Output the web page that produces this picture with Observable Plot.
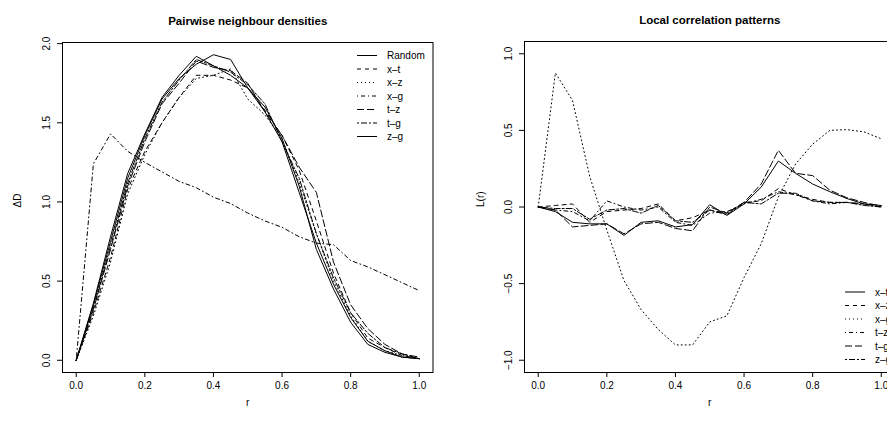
<!DOCTYPE html>
<html><head><meta charset="utf-8">
<script src="https://cdn.jsdelivr.net/npm/d3@7"></script>
<script src="https://cdn.jsdelivr.net/npm/@observablehq/plot@0.6"></script>
<style>
html,body{margin:0;padding:0;background:#fff;}
#wrap{position:relative;width:887px;height:426px;overflow:hidden;font-family:"Liberation Sans",Arial,Helvetica,sans-serif;}
#wrap > .pane{position:absolute;top:0;}
</style></head><body><div id="wrap"></div>
<script>
// ---- data ----
const rValues = [0,0.05,0.1,0.15,0.2,0.25,0.3,0.35,0.4,0.45,0.5,0.55,0.6,0.65,0.7,0.75,0.8,0.85,0.9,0.95,1.0];

const leftTitle = "Pairwise neighbour densities";
const leftYLabel = "\u0394D";
const leftNames = ["Random","x\u2013t","x\u2013z","x\u2013g","t\u2013z","t\u2013g","z\u2013g"];
const leftRandom = [0,0.35,0.75,1.15,1.42,1.65,1.78,1.87,1.93,1.90,1.72,1.60,1.40,1.10,0.70,0.45,0.24,0.10,0.05,0.02,0.01];
const leftXT     = [0,0.30,0.65,1.08,1.32,1.50,1.66,1.80,1.80,1.77,1.72,1.58,1.42,1.20,0.88,0.55,0.30,0.14,0.08,0.03,0.01];
const leftXZ     = [0,0.28,0.62,1.05,1.30,1.50,1.66,1.78,1.80,1.84,1.65,1.55,1.40,1.12,0.80,0.50,0.28,0.12,0.06,0.03,0.01];
const leftXG     = [0,1.24,1.43,1.32,1.25,1.19,1.13,1.09,1.03,0.99,0.93,0.88,0.84,0.78,0.74,0.73,0.63,0.59,0.54,0.49,0.44];
const leftTZ     = [0,0.32,0.70,1.10,1.38,1.62,1.75,1.89,1.85,1.83,1.75,1.57,1.42,1.22,1.06,0.62,0.35,0.20,0.10,0.04,0.02];
const leftTG     = [0,0.33,0.72,1.12,1.40,1.63,1.77,1.90,1.86,1.82,1.74,1.62,1.38,1.15,0.80,0.52,0.30,0.17,0.08,0.04,0.01];
const leftZG     = [0,0.36,0.78,1.18,1.43,1.66,1.80,1.92,1.86,1.80,1.72,1.57,1.38,1.06,0.74,0.48,0.27,0.12,0.06,0.02,0.01];
const leftYTicks = [0,0.5,1.0,1.5,2.0];

const rightTitle = "Local correlation patterns";
const rightYLabel = "L(r)";
const rightNames = ["x\u2013t","x\u2013z","x\u2013g","t\u2013z","t\u2013g","z\u2013g"];
const rightXT = [0,-0.03,-0.10,-0.11,-0.11,-0.185,-0.10,-0.09,-0.13,-0.115,0.015,-0.055,0.02,0.13,0.30,0.22,0.15,0.10,0.055,0.02,0.01];
const rightXZ = [0,0.01,0.02,-0.10,-0.03,-0.02,-0.01,0.02,-0.09,-0.07,-0.02,-0.04,0.03,0.04,0.12,0.08,0.05,0.03,0.03,0.02,0.0];
const rightXG = [0,0.875,0.695,0.20,-0.15,-0.48,-0.67,-0.80,-0.90,-0.90,-0.75,-0.71,-0.46,-0.24,0.065,0.28,0.41,0.50,0.505,0.49,0.445];
const rightTZ = [0,-0.02,-0.03,-0.09,0.04,0.0,-0.02,0.0,-0.10,-0.12,-0.04,-0.03,0.02,0.05,0.10,0.08,0.04,0.02,0.03,0.02,0.0];
const rightTG = [0,-0.02,-0.13,-0.12,-0.11,-0.175,-0.11,-0.10,-0.14,-0.155,0.0,-0.04,0.03,0.15,0.37,0.22,0.205,0.11,0.06,0.03,0.005];
const rightZG = [0,-0.01,-0.01,-0.08,-0.02,-0.01,-0.04,0.01,-0.09,-0.10,-0.02,-0.05,0.03,0.02,0.09,0.09,0.04,0.03,0.03,0.01,0.0];
const rightYTicks = [-1.0,-0.5,0.0,0.5,1.0];

const xTicks = [0,0.2,0.4,0.6,0.8,1.0];
const xLabel = "r";

// R line types
const LTY = [null,"4,4","1,3","1,3,4,3","7,3","2,2,6,2"];
const leftDash = [LTY[0],LTY[1],LTY[2],LTY[3],LTY[4],LTY[5],LTY[0]];
const rightDash = [LTY[0],LTY[1],LTY[2],LTY[3],LTY[4],LTY[5]];

const FONT = '"Liberation Sans",Arial,Helvetica,sans-serif';
const fmt = d => d.toFixed(1).replace("-", "\u2212");

function panel(cfg) {
  const marks = [];
  cfg.series.forEach((vals, i) => {
    const rows = rValues.map((x, j) => ({r: x, v: vals[j]}));
    const opts = {x: "r", y: "v", stroke: "black", strokeWidth: 1};
    if (cfg.dash[i]) opts.strokeDasharray = cfg.dash[i];
    marks.push(Plot.lineY(rows, opts));
  });
  marks.push(Plot.frame({stroke: "black", strokeWidth: 1}));
  marks.push(Plot.axisX({ticks: xTicks, tickFormat: fmt, tickSize: 5, tickPadding: 4, fontSize: 10, label: null}));
  marks.push(Plot.axisY({ticks: cfg.yTicks, tickFormat: fmt, tickSize: 5, tickPadding: 8, tickRotate: -90, fontSize: 10, label: null}));
  marks.push(Plot.text([cfg.title], {text: d => d, frameAnchor: "top", dy: -26, fontWeight: "bold", fontSize: 11.5}));
  marks.push(Plot.text([xLabel], {text: d => d, frameAnchor: "bottom", dy: 33, fontSize: 10}));
  marks.push(Plot.text([cfg.ylab], {text: d => d, frameAnchor: "left", dx: cfg.ylabDx, rotate: -90, fontSize: 10}));
  const p = Plot.plot({
    width: cfg.width, height: 426,
    marginLeft: cfg.mL, marginRight: cfg.mR, marginTop: cfg.mT, marginBottom: 54,
    x: {domain: [-0.04, 1.04]},
    y: {domain: cfg.yDomain},
    style: {fontFamily: FONT, fontSize: "10px", background: "transparent", overflow: "visible", color: "black"},
    marks
  });
  p.classList.add("pane");
  p.style.left = cfg.left + "px";
  return p;
}

const wrap = document.getElementById("wrap");
wrap.appendChild(panel({
  series: [leftRandom, leftXT, leftXZ, leftXG, leftTZ, leftTG, leftZG], dash: leftDash,
  yTicks: leftYTicks, yDomain: [-0.0772, 2.0072], title: leftTitle, ylab: leftYLabel, ylabDx: -45,
  width: 443, mL: 62, mR: 10.5, mT: 42, left: 0
}));
wrap.appendChild(panel({
  series: [rightXT, rightXZ, rightXG, rightTZ, rightTG, rightZG], dash: rightDash,
  yTicks: rightYTicks, yDomain: [-1.08, 1.08], title: rightTitle, ylab: rightYLabel, ylabDx: -44,
  width: 462, mL: 81, mR: 10.5, mT: 41, left: 443
}));

// legends (overlay)
function legend(names, dash, x0, y0) {
  const svg = d3.select(wrap).append("svg").attr("class", "pane")
    .style("left", "0px").attr("width", 887).attr("height", 426)
    .style("pointer-events", "none");
  names.forEach((n, i) => {
    const y = y0 + i * 13.5;
    const ln = svg.append("line").attr("x1", x0).attr("x2", x0 + 20).attr("y1", y).attr("y2", y)
      .attr("stroke", "black").attr("stroke-width", 1);
    if (dash[i]) ln.attr("stroke-dasharray", dash[i]);
    svg.append("text").attr("x", x0 + 30).attr("y", y).attr("dy", "0.35em")
      .attr("font-family", FONT).attr("font-size", 10).text(n);
  });
}
legend(leftNames, leftDash, 357, 55.5);
legend(rightNames, rightDash, 845, 292);
</script></body></html>
